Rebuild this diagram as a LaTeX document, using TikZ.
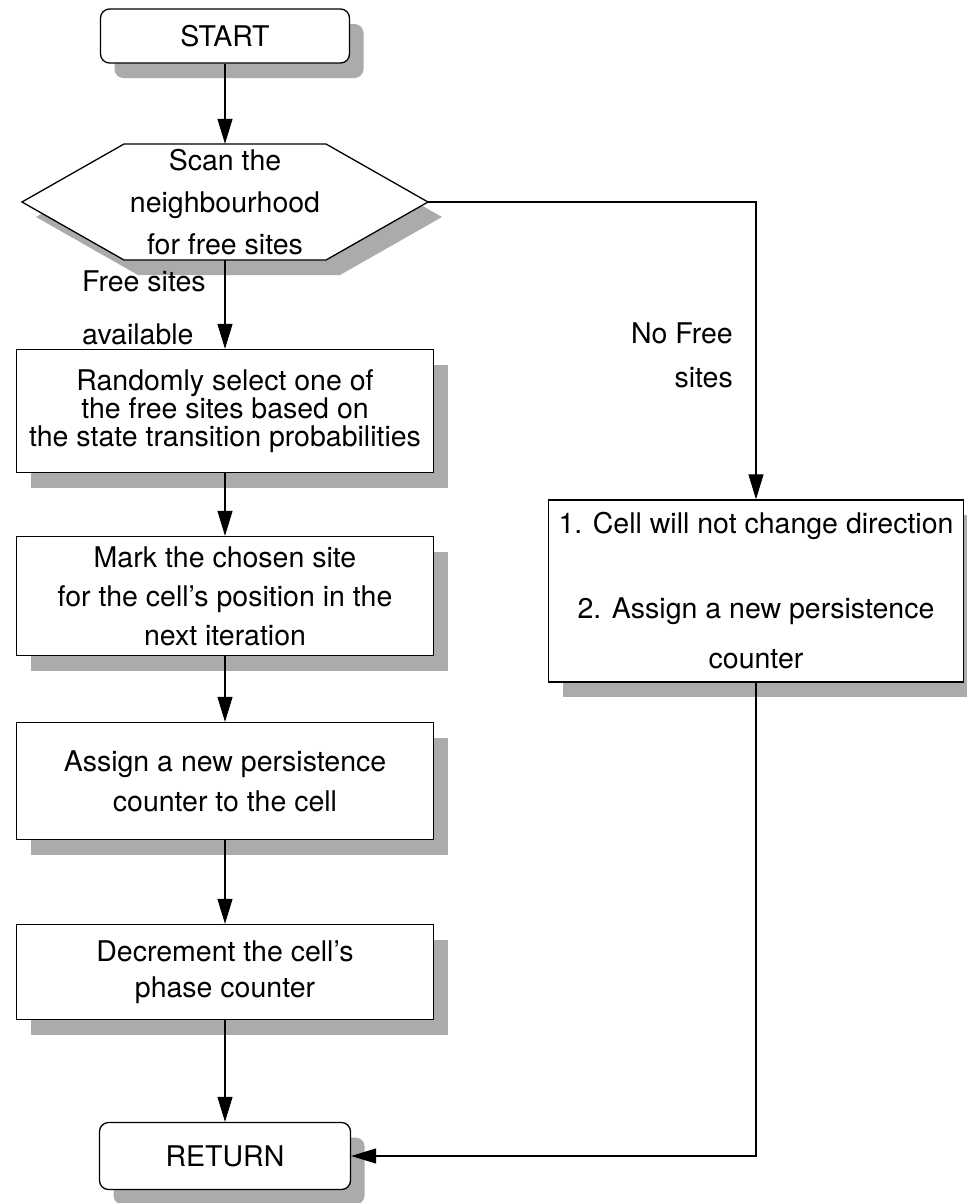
\documentclass[tikz,border=0pt]{standalone}
\usepackage{fontspec}
\setmainfont{TeX Gyre Heros}
\usetikzlibrary{arrows.meta,shadows}

\begin{document}
\begin{tikzpicture}[x=1pt,y=-1pt,
  txt/.style={font=\fontsize{28.5}{#1}\selectfont},
  txt/.default=34,
  shade drop/.style={drop shadow={shadow xshift=14pt,shadow yshift=-15pt,fill=black!33,opacity=1}},
  procbox/.style={draw,line width=1.3pt,fill=white,shade drop,minimum width=417pt,align=center,inner sep=0pt},
  termbox/.style={procbox,rounded corners=9pt},
  flow/.style={line width=1.1pt,-{Triangle[length=25pt,width=15pt]}},
  lbl/.style={inner sep=0pt}
]
\useasboundingbox[fill=white] (0,0) rectangle (967,1203);

% terminals
\node[termbox,txt,minimum width=249pt,minimum height=54pt] (start) at (225,36) {START};
\node[termbox,txt,minimum width=251pt,minimum height=67pt] (ret) at (225,1156) {RETURN};

% decision hexagon, with its label node on top
\path[draw,line width=1.3pt,fill=white,shade drop]
  (22,202) -- (124,144) -- (326,144) -- (428,202) -- (326,260) -- (124,260) -- cycle;
\node[lbl,txt=42,align=center,minimum width=406pt,minimum height=116pt] (scan) at (225,202)
  {Scan the\\neighbourhood\\for free sites};

% process steps, left column
\node[procbox,txt=28,minimum height=123pt] (rand) at (225,411)
  {Randomly select one of\\the free sites based on\\the state transition probabilities};
\node[procbox,txt=39,minimum height=119pt] (mark) at (225,596)
  {Mark the chosen site\\for the cell's position in the\\next iteration};
\node[procbox,txt=40,minimum height=117pt] (assign) at (225,781)
  {Assign a new persistence\\counter to the cell};
\node[procbox,txt=36,minimum height=95pt] (decr) at (225,972)
  {Decrement the cell's\\phase counter};

% process step, right branch
\node[procbox,txt=50,minimum width=415pt,minimum height=182pt] (keep) at (756,591)
  {1. Cell will not change direction\\[35pt]2. Assign a new persistence\\counter};

% branch labels
\node[lbl,txt=53,align=left,anchor=west] (yes) at (82,308) {Free sites\\available};
\node[lbl,txt=44,align=right,anchor=east] (no) at (733,355) {No Free\\sites};

% connectors
\draw[flow] (start.south) -- (scan.north);
\draw[flow] (scan.south) -- (rand.north);
\draw[flow] (scan.east) -| (keep.north);
\draw[flow] (rand.south) -- (mark.north);
\draw[flow] (mark.south) -- (assign.north);
\draw[flow] (assign.south) -- (decr.north);
\draw[flow] (decr.south) -- (ret.north);
\draw[flow] (keep.south) |- (ret.east);
\end{tikzpicture}
\end{document}
